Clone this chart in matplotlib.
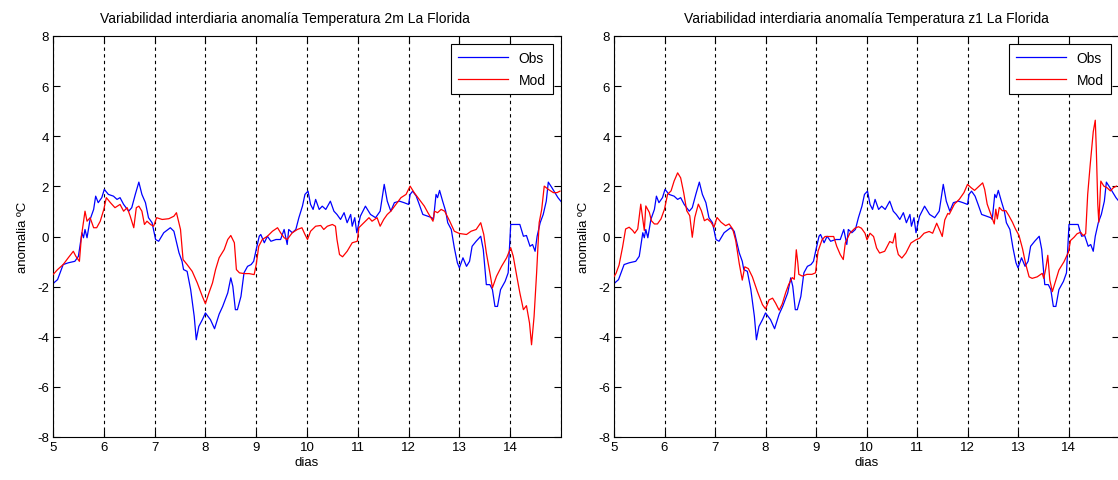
"""Variabilidad interdiaria de la anomalia de temperatura en La Florida
# panel izquierdo: Obs vs Mod temperatura 2m
# panel derecho:   Obs vs Mod temperatura z1
"""

import matplotlib
matplotlib.use('Agg')
import matplotlib.pyplot as plt

# fuente parecida a la de MATLAB
plt.rcParams['font.family'] = ['Liberation Sans', 'DejaVu Sans']
plt.rcParams['font.size'] = 9.5
plt.rcParams['axes.unicode_minus'] = False

# observaciones (iguales en ambos paneles)
obs_dias = [5.00, 5.09, 5.20, 5.30, 5.43, 5.50, 5.57, 5.60, 5.63, 5.67, 5.73, 5.80, 5.84, 5.89, 5.96,
            6.01, 6.09, 6.19, 6.26, 6.32, 6.39, 6.49, 6.55, 6.62, 6.69, 6.75, 6.82, 6.88, 6.95,
            7.02, 7.08, 7.18, 7.31, 7.38, 7.48, 7.54, 7.57, 7.64, 7.71, 7.78, 7.82, 7.87, 7.94,
            8.00, 8.10, 8.18, 8.27, 8.34, 8.44, 8.50, 8.54, 8.59, 8.63, 8.70, 8.76, 8.83, 8.90, 8.95,
            9.00, 9.06, 9.09, 9.16, 9.22, 9.29, 9.39, 9.48, 9.55, 9.61, 9.64, 9.71, 9.78, 9.84, 9.91, 9.96,
            10.02, 10.07, 10.12, 10.17, 10.24, 10.30, 10.37, 10.46, 10.53, 10.59, 10.66, 10.73, 10.79,
            10.86, 10.89, 10.94, 10.98, 11.05, 11.15, 11.25, 11.35, 11.44, 11.52, 11.58, 11.65, 11.72,
            11.82, 11.91, 12.00, 12.03, 12.08, 12.15, 12.21, 12.28, 12.38, 12.46, 12.49, 12.54, 12.57,
            12.61, 12.67, 12.73, 12.77, 12.84, 12.90, 12.96, 13.00, 13.07, 13.14, 13.20, 13.25, 13.33,
            13.42, 13.47, 13.53, 13.60, 13.65, 13.70, 13.75, 13.81, 13.90, 13.96, 14.01, 14.09, 14.19,
            14.26, 14.32, 14.39, 14.44, 14.49, 14.53, 14.59, 14.65, 14.71, 14.75, 14.82, 14.88, 14.94, 15.00]
obs_vals = [-1.88, -1.72, -1.12, -1.05, -0.99, -0.79, 0.15, -0.05, 0.28, -0.05, 0.68, 1.08, 1.61, 1.35, 1.55,
            1.88, 1.68, 1.61, 1.48, 1.55, 1.28, 1.01, 1.15, 1.68, 2.17, 1.68, 1.35, 0.75, 0.55,
            -0.12, -0.19, 0.15, 0.35, 0.21, -0.65, -0.99, -1.32, -1.39, -2.12, -3.19, -4.12, -3.59, -3.32,
            -3.05, -3.32, -3.68, -3.10, -2.79, -2.25, -1.65, -1.99, -2.92, -2.92, -2.39, -1.45, -1.19, -1.12, -0.99,
            -0.52, 0.01, 0.08, -0.25, 0.01, -0.19, -0.12, -0.12, 0.28, -0.32, 0.28, 0.15, 0.28, 0.75, 1.21, 1.68,
            1.81, 1.28, 1.08, 1.48, 1.08, 1.21, 1.08, 1.41, 1.01, 0.88, 0.68, 0.95, 0.55,
            0.88, 0.41, 0.75, 0.15, 0.81, 1.21, 0.88, 0.75, 1.01, 2.08, 1.41, 1.01, 1.35,
            1.41, 1.35, 1.28, 1.68, 1.81, 1.61, 1.28, 0.88, 0.81, 0.75, 0.68, 1.68, 1.55,
            1.84, 1.41, 1.01, 0.55, 0.28, -0.45, -1.05, -1.25, -0.85, -1.19, -0.99, -0.39, -0.19,
            0.01, -0.52, -1.92, -1.92, -2.12, -2.79, -2.79, -2.12, -1.79, -1.45, 0.48, 0.48, 0.48,
            0.01, 0.04, -0.39, -0.32, -0.59, 0.01, 0.55, 0.88, 1.41, 2.17, 1.95, 1.75, 1.55, 1.40]

# modelo, temperatura 2m
mod2m_dias = [5.00, 5.09, 5.20, 5.30, 5.40, 5.45, 5.52, 5.56, 5.63, 5.67, 5.73, 5.80, 5.86, 5.93,
              6.00, 6.05, 6.13, 6.22, 6.32, 6.39, 6.46, 6.52, 6.59, 6.64, 6.69, 6.75, 6.80, 6.85, 6.92, 6.98,
              7.04, 7.15, 7.28, 7.38, 7.43, 7.51, 7.56, 7.64, 7.74, 7.84, 7.94,
              8.00, 8.07, 8.14, 8.20, 8.27, 8.37, 8.44, 8.50, 8.57, 8.61, 8.67, 8.76, 8.86, 8.96,
              9.00, 9.05, 9.12, 9.22, 9.32, 9.42, 9.48, 9.55, 9.61, 9.71, 9.81, 9.90, 9.96,
              10.01, 10.07, 10.17, 10.27, 10.33, 10.40, 10.50, 10.56, 10.59, 10.64, 10.70, 10.79, 10.89, 10.99,
              11.02, 11.12, 11.22, 11.28, 11.38, 11.44, 11.51, 11.58, 11.65, 11.75, 11.85, 11.95,
              12.03, 12.11, 12.21, 12.31, 12.38, 12.48, 12.51, 12.57, 12.64, 12.71, 12.81, 12.90,
              13.00, 13.14, 13.23, 13.33, 13.42, 13.48, 13.53, 13.60, 13.65, 13.73, 13.83, 13.93,
              14.01, 14.06, 14.13, 14.19, 14.26, 14.32, 14.38, 14.42, 14.47, 14.52, 14.57, 14.62, 14.67,
              14.75, 14.85, 14.92, 14.98]
mod2m_vals = [-1.52, -1.32, -1.12, -0.85, -0.59, -0.79, -0.99, 0.01, 1.01, 0.61, 0.75, 0.35, 0.35, 0.61,
              1.08, 1.55, 1.35, 1.15, 1.28, 1.01, 1.15, 0.81, 0.35, 1.15, 1.21, 1.01, 0.48, 0.61, 0.48, 0.41,
              0.75, 0.68, 0.71, 0.81, 0.95, 0.28, -0.92, -1.12, -1.39, -1.85, -2.39,
              -2.68, -2.25, -1.85, -1.32, -0.85, -0.52, -0.12, 0.04, -0.25, -1.32, -1.45, -1.48, -1.48, -1.52,
              -1.12, -0.39, -0.12, 0.01, 0.21, 0.35, 0.15, -0.05, -0.12, 0.15, 0.28, 0.35, 0.08,
              -0.12, 0.21, 0.41, 0.44, 0.28, 0.41, 0.48, 0.41, -0.12, -0.72, -0.81, -0.59, -0.25, -0.19,
              0.35, 0.55, 0.75, 0.61, 0.75, 0.41, 0.68, 0.88, 1.01, 1.28, 1.55, 1.68,
              2.01, 1.75, 1.48, 1.21, 0.95, 0.61, 1.01, 0.95, 1.08, 1.01, 0.61, 0.21,
              0.12, 0.08, 0.21, 0.28, 0.55, 0.08, -0.65, -1.45, -2.05, -1.59, -1.19, -0.85,
              -0.45, -0.79, -1.59, -2.25, -2.92, -2.76, -3.45, -4.32, -3.19, -1.45, 0.55, 1.08, 2.01,
              1.88, 1.75, 1.75, 1.81]

# modelo, temperatura z1
modz1_dias = [5.00, 5.04, 5.10, 5.17, 5.23, 5.30, 5.37, 5.41, 5.47, 5.53, 5.56, 5.60, 5.63, 5.70, 5.74,
              5.80, 5.86, 5.93, 6.00, 6.06, 6.13, 6.19, 6.26, 6.32, 6.38, 6.44, 6.50, 6.55, 6.60, 6.67,
              6.73, 6.79, 6.85, 6.92, 6.98, 7.04, 7.12, 7.21, 7.28, 7.35, 7.41, 7.48, 7.54, 7.59, 7.66,
              7.74, 7.84, 7.94, 8.00, 8.07, 8.14, 8.20, 8.27, 8.33, 8.40, 8.46, 8.53, 8.57, 8.61, 8.64,
              8.66, 8.73, 8.82, 8.92, 8.99, 9.04, 9.12, 9.18, 9.28, 9.35, 9.41, 9.48, 9.54, 9.58, 9.61,
              9.67, 9.77, 9.84, 9.90, 9.97, 10.01, 10.07, 10.14, 10.20, 10.26, 10.36, 10.46, 10.52, 10.57,
              10.59, 10.63, 10.70, 10.78, 10.88, 10.98, 11.05, 11.14, 11.24, 11.31, 11.39, 11.46, 11.50,
              11.55, 11.61, 11.64, 11.74, 11.84, 11.93, 12.00, 12.07, 12.14, 12.23, 12.30, 12.34, 12.39,
              12.46, 12.53, 12.56, 12.59, 12.63, 12.69, 12.76, 12.82, 12.89, 12.95, 13.02, 13.09, 13.15,
              13.22, 13.28, 13.38, 13.48, 13.51, 13.55, 13.59, 13.63, 13.68, 13.74, 13.81, 13.91, 14.00,
              14.04, 14.11, 14.17, 14.24, 14.29, 14.34, 14.38, 14.43, 14.49, 14.53, 14.55, 14.58, 14.60,
              14.64, 14.70, 14.76, 14.83, 14.89, 14.95]
modz1_vals = [-1.60, -1.47, -1.14, -0.42, 0.30, 0.37, 0.24, 0.13, 0.30, 1.29, 0.83, 0.24, 1.22, 0.96, 0.63,
              0.50, 0.50, 0.70, 1.09, 1.68, 1.82, 2.21, 2.54, 2.34, 1.75, 1.03, 0.83, -0.03, 0.76, 1.29,
              1.03, 0.63, 0.70, 0.57, 0.37, 0.76, 0.57, 0.43, 0.50, 0.30, -0.16, -1.08, -1.74, -1.21, -1.28,
              -1.61, -2.20, -2.72, -2.89, -2.53, -2.46, -2.66, -2.94, -2.70, -2.24, -1.91, -1.64, -1.71, -0.53, -1.05,
              -1.51, -1.58, -1.51, -1.51, -1.45, -0.59, -0.13, 0.00, 0.00, 0.00, -0.39, -0.72, -0.92, -0.26, -0.13,
              0.13, 0.33, 0.39, 0.33, 0.13, -0.13, 0.13, 0.00, -0.46, -0.66, -0.59, -0.20, -0.26, 0.13,
              -0.39, -0.72, -0.86, -0.66, -0.26, -0.13, -0.07, 0.13, 0.20, 0.13, 0.53, 0.20, 0.00,
              0.66, 0.92, 0.89, 1.29, 1.49, 1.75, 2.08, 1.95, 1.84, 2.01, 2.14, 1.88, 1.29,
              0.89, 0.50, 1.09, 0.70, 1.16, 1.03, 1.03, 0.83, 0.57, 0.30, 0.04, -0.49, -1.08,
              -1.61, -1.67, -1.61, -1.47, -1.67, -1.28, -0.75, -1.74, -2.20, -1.80, -1.34, -1.01, -0.62,
              -0.16, -0.03, 0.11, 0.17, 0.04, 0.11, 1.68, 2.87, 4.18, 4.64, 3.53, 1.29, 0.57,
              2.21, 2.01, 1.95, 1.82, 1.95, 2.01]

dias_ticks = list(range(5, 15))
anom_ticks = list(range(-8, 9, 2))
dias_div = list(range(5, 16))


def dibujar_panel(ax, mod_dias, mod_vals, titulo, titulo_x=0.5):
    """Dibuja un panel Obs vs Mod"""
    # lineas de division diaria
    for d in dias_div:
        ax.axvline(d, color='k', ls=(0, (3, 3)), lw=0.8, zorder=1)
    ax.plot(obs_dias, obs_vals, color='b', lw=0.9, label='Obs', zorder=2)
    ax.plot(mod_dias, mod_vals, color='r', lw=0.9, label='Mod', zorder=3)

    ax.set_xlim(5, 15)
    ax.set_ylim(-8, 8)
    ax.set_xticks(dias_ticks)
    ax.set_yticks(anom_ticks)
    ax.tick_params(direction='in', top=True, right=True, length=5, width=0.8, pad=3)
    for s in ax.spines.values():
        s.set_linewidth(0.8)
    ax.set_xlabel('dias', labelpad=2)
    ax.set_ylabel('anomalia ºC', labelpad=6)
    ax.set_title(titulo, fontsize=10, pad=10, x=titulo_x)

    leg = ax.legend(loc='upper right', fancybox=False, edgecolor='k', framealpha=1,
                    handlelength=3.6, borderaxespad=0.6, labelspacing=0.55,
                    borderpad=0.5, fontsize=10)
    leg.get_frame().set_linewidth(0.8)


fig = plt.figure(figsize=(11.18, 4.81), dpi=100)
ax1 = fig.add_axes([53 / 1118, 43 / 481, 508 / 1118, 401 / 481])
ax2 = fig.add_axes([614 / 1118, 43 / 481, 505 / 1118, 401 / 481])

dibujar_panel(ax1, mod2m_dias, mod2m_vals,
              'Variabilidad interdiaria anomalía Temperatura 2m La Florida', titulo_x=0.457)
dibujar_panel(ax2, modz1_dias, modz1_vals,
              'Variabilidad interdiaria anomalía Temperatura z1 La Florida')

fig.savefig('out.png', dpi=100)
